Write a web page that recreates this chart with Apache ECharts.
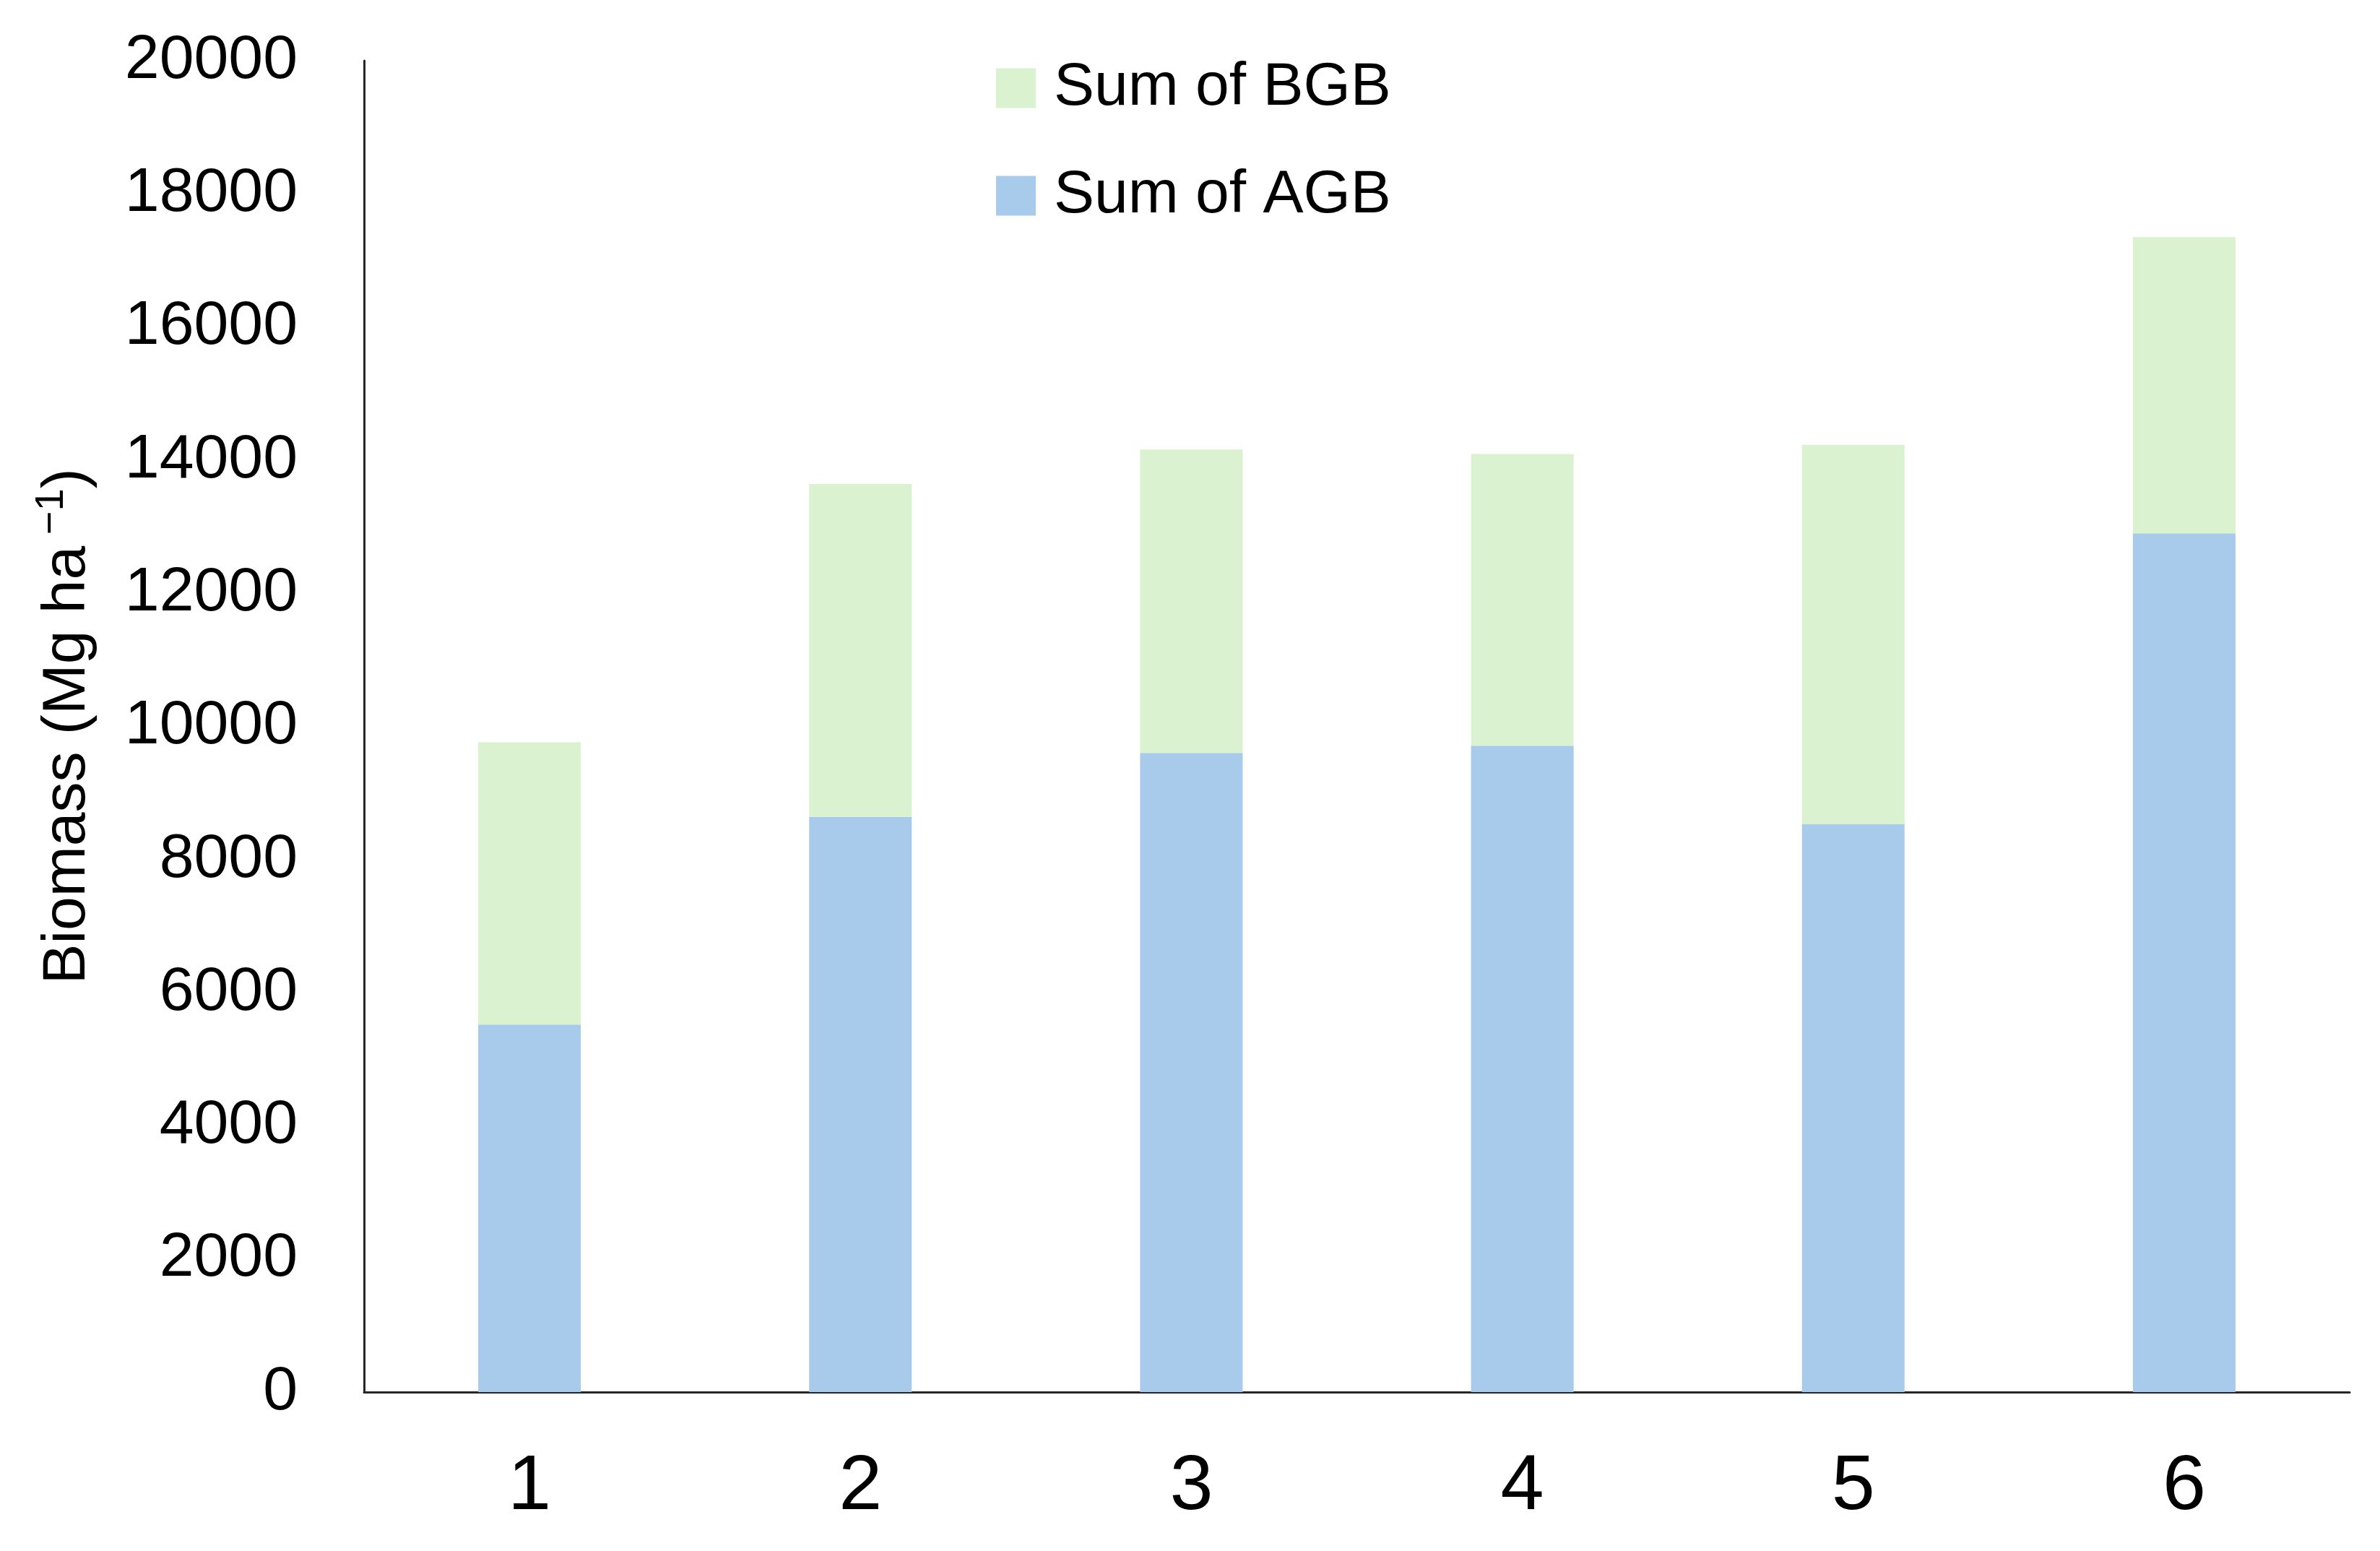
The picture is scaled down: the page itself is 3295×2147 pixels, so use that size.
<!DOCTYPE html>
<html>
<head>
<meta charset="utf-8">
<script src="https://cdn.jsdelivr.net/npm/echarts@6/dist/echarts.min.js"></script>
<style>
html, body { margin: 0; padding: 0; background: #fff; }
#main { width: 3295px; height: 2147px; }
</style>
</head>
<body>
<div id="main"></div>
<script>
// 数据
var categories = ['1', '2', '3', '4', '5', '6'];
var agbValues = [5520, 8640, 9600, 9710, 8530, 12900];
var bgbValues = [4240, 5000, 4560, 4380, 5700, 4450];
var yTicks = { min: 0, max: 20000, interval: 2000 };

var fontFamily = "'Liberation Sans', Arial, sans-serif";

var myChart = echarts.init(document.getElementById('main'));

option = {
    backgroundColor: '#ffffff',
    animation: false,
    textStyle: { fontFamily: fontFamily },
    grid: {
        left: 504,
        right: 42,
        top: 84,
        bottom: 220
    },
    legend: {
        orient: 'vertical',
        left: 1374,
        top: 75,
        itemWidth: 55,
        itemHeight: 55,
        itemGap: 65,
        icon: 'rect',
        data: ['Sum of BGB', 'Sum of AGB'],
        textStyle: {
            fontSize: 84,
            color: '#000',
            padding: [0, 0, 0, 20],
            fontFamily: fontFamily
        }
    },
    xAxis: {
        type: 'category',
        data: categories,
        axisLine: { show: true, lineStyle: { color: '#262626', width: 3 } },
        axisTick: { show: false },
        axisLabel: {
            margin: 78,
            fontSize: 108,
            color: '#000',
            fontFamily: fontFamily
        },
        splitLine: { show: false }
    },
    yAxis: {
        type: 'value',
        min: yTicks.min,
        max: yTicks.max,
        interval: yTicks.interval,
        name: '{a|Biomass (Mg ha}{s| −1}{a|)}',
        nameLocation: 'middle',
        nameGap: 360,
        nameRotate: 90,
        nameTextStyle: {
            rich: {
                a: { fontSize: 84, color: '#000', fontFamily: fontFamily, lineHeight: 100 },
                s: { fontSize: 56, color: '#000', fontFamily: fontFamily, verticalAlign: 'top', lineHeight: 100, padding: [0, 0, 30, 0] }
            }
        },
        axisLine: { show: true, lineStyle: { color: '#262626', width: 3 } },
        axisTick: { show: false },
        axisLabel: {
            margin: 92,
            fontSize: 86,
            color: '#000',
            fontFamily: fontFamily,
            formatter: function (v) { return String(v); }
        },
        splitLine: { show: false }
    },
    series: [
        {
            name: 'Sum of AGB',
            type: 'bar',
            stack: 'total',
            barWidth: '31%',
            itemStyle: { color: '#A8CAEB' },
            data: agbValues
        },
        {
            name: 'Sum of BGB',
            type: 'bar',
            stack: 'total',
            barWidth: '31%',
            itemStyle: { color: '#DAF2D0' },
            data: bgbValues
        }
    ]
};

myChart.setOption(option);
</script>
</body>
</html>
